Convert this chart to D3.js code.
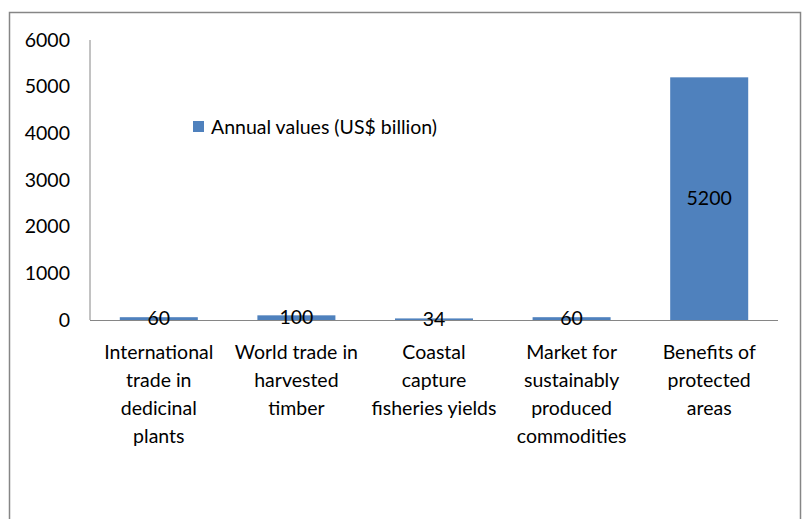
<!DOCTYPE html>
<html>
<head>
<meta charset="utf-8">
<script src="https://cdn.jsdelivr.net/npm/d3@7"></script>
<style>
  body { margin: 0; background: #fff; }
  text { font-family: Lato, "Open Sans", sans-serif; fill: #000; }
</style>
</head>
<body>
<svg id="chart" width="802" height="519"></svg>
<script>
// chart values
var categories = [
    ["International", "trade in", "dedicinal", "plants"],
    ["World trade in", "harvested", "timber"],
    ["Coastal", "capture", "fisheries yields"],
    ["Market for", "sustainably", "produced", "commodities"],
    ["Benefits of", "protected", "areas"]
]
var values = [60, 100, 34, 60, 5200]
var yTicks = [0, 1000, 2000, 3000, 4000, 5000, 6000]
var seriesName = "Annual values (US$ billion)"

var svg = d3.select("#chart")
var barColor = "#4f81bd"
var fontSize = "19.5px"

// outer frame
svg.append("rect")
    .attr("x", 9.5).attr("y", 12.5)
    .attr("width", 791).attr("height", 520)
    .attr("fill", "none")
    .attr("stroke", "#868686")
    .attr("stroke-width", 1.5)

var plotLeft = 90, plotRight = 778, plotTop = 40, plotBottom = 320

var xScale = d3.scaleBand()
    .domain(d3.range(values.length))
    .range([plotLeft, plotRight])
    .paddingInner(0.433)
    .paddingOuter(0.2165)

var yScale = d3.scaleLinear()
    .domain([0, 6000])
    .range([plotBottom, plotTop])

// y tick labels
svg.append("g").selectAll("text")
    .data(yTicks)
    .enter().append("text")
    .attr("x", 70)
    .attr("y", function(d) { return yScale(d) })
    .attr("dy", "0.35em")
    .attr("text-anchor", "end")
    .style("font-size", fontSize)
    .text(function(d) { return d })

// bars
svg.append("g").selectAll("rect")
    .data(values)
    .enter().append("rect")
    .attr("x", function(d, i) { return xScale(i) })
    .attr("y", function(d) { return yScale(d) })
    .attr("width", xScale.bandwidth())
    .attr("height", function(d) { return yScale(0) - yScale(d) })
    .attr("fill", barColor)

// axis lines
svg.append("line")
    .attr("x1", plotLeft).attr("x2", plotLeft)
    .attr("y1", plotTop).attr("y2", plotBottom)
    .attr("stroke", "#868686")
svg.append("line")
    .attr("x1", plotLeft).attr("x2", plotRight)
    .attr("y1", plotBottom + 0.5).attr("y2", plotBottom + 0.5)
    .attr("stroke", "#868686")

// data labels
svg.append("g").selectAll("text")
    .data(values)
    .enter().append("text")
    .attr("x", function(d, i) { return xScale(i) + xScale.bandwidth() / 2 })
    .attr("y", function(d) { return (yScale(d) + yScale(0)) / 2 })
    .attr("dy", "0.35em")
    .attr("text-anchor", "middle")
    .style("font-size", fontSize)
    .text(function(d) { return d })

// category labels
var catG = svg.append("g").selectAll("text")
    .data(categories)
    .enter().append("text")
    .attr("text-anchor", "middle")
    .style("font-size", fontSize)

catG.selectAll("tspan")
    .data(function(d, i) { return d.map(function(s) { return { s: s, i: i } }) })
    .enter().append("tspan")
    .attr("x", function(d) { return xScale(d.i) + xScale.bandwidth() / 2 })
    .attr("y", function(d, j) { return 352 + j * 28 })
    .attr("dy", "0.35em")
    .text(function(d) { return d.s })

// legend
svg.append("rect")
    .attr("x", 193).attr("y", 121)
    .attr("width", 11).attr("height", 11)
    .attr("fill", barColor)
svg.append("text")
    .attr("x", 211).attr("y", 127)
    .attr("dy", "0.35em")
    .style("font-size", fontSize)
    .text(seriesName)
</script>
</body>
</html>
